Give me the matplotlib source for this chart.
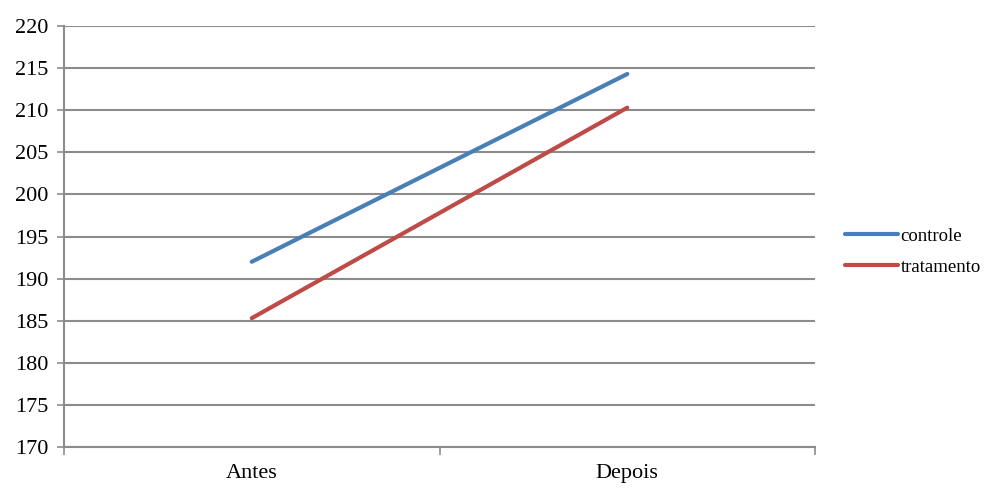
import matplotlib.pyplot as plt
from matplotlib.ticker import FixedLocator

plt.rcParams['font.family'] = ['Liberation Serif', 'DejaVu Serif']

categorias = ["Antes", "Depois"]
controle = [192.0, 214.3]
tratamento = [185.3, 210.3]
yticks = list(range(170, 221, 5))

fig = plt.figure(figsize=(10.03, 4.88), dpi=100)
ax = fig.add_axes([0.0638, 0.084, 0.7488, 0.8627])

x = range(len(categorias))
ax.plot(x, controle, color="#4a7ebb", linewidth=3, label="controle", solid_capstyle="round")
ax.plot(x, tratamento, color="#be4b48", linewidth=3, label="tratamento", solid_capstyle="round")

ax.set_xlim(-0.5, 1.5)
ax.set_ylim(170, 220)
ax.set_yticks(yticks)
ax.set_xticks(list(x))
ax.set_xticklabels(categorias)
ax.xaxis.set_minor_locator(FixedLocator([-0.5, 0.5, 1.5]))

ax.grid(axis="y", color="#8c8c8c", linewidth=1.5)
ax.set_axisbelow(True)
for s in ["top", "right"]:
    ax.spines[s].set_visible(False)
for s in ["left", "bottom"]:
    ax.spines[s].set_color("#8c8c8c")
    ax.spines[s].set_linewidth(1.5)

ax.tick_params(axis="y", which="major", length=5, width=1.2, color="#8c8c8c",
               labelsize=16, pad=6)
ax.tick_params(axis="x", which="major", length=0, labelsize=16, pad=12)
ax.tick_params(axis="x", which="minor", length=6, width=1.2, color="#8c8c8c")

# legenda à direita, fora da área do gráfico
ax.legend(loc="center left", bbox_to_anchor=(1.04, 0.464), frameon=False,
          borderaxespad=0, borderpad=0, fontsize=13.5, handlelength=2.8,
          handletextpad=0.15, labelspacing=0.76)

fig.savefig("out.png", dpi=100)
